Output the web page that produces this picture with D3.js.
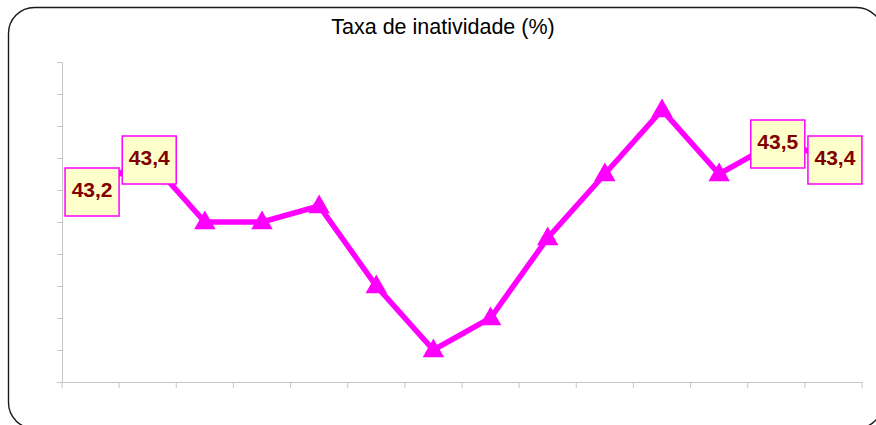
<!DOCTYPE html>
<html>
<head>
<meta charset="utf-8">
<script src="https://cdn.jsdelivr.net/npm/d3@7"></script>
<style>
  html, body { margin: 0; padding: 0; background: #fff; }
  svg { display: block; }
</style>
</head>
<body>
<svg id="chart" width="876" height="425"></svg>
<script>
// ---- data ----
const categories = ["P1","P2","P3","P4","P5","P6","P7","P8","P9","P10","P11","P12","P13","P14"];
const values = [43.2, 43.4, 43.0, 43.0, 43.1, 42.6, 42.2, 42.4, 42.9, 43.3, 43.7, 43.3, 43.5, 43.4];
const labelledIndices = [0, 1, 12, 13];
const yTicks = [42.0, 42.2, 42.4, 42.6, 42.8, 43.0, 43.2, 43.4, 43.6, 43.8, 44.0];
const title = "Taxa de inatividade (%)";

// ---- layout ----
const W = 876, H = 425;
const plot = { left: 62, right: 862, top: 62, bottom: 382 };
const font = "'Liberation Sans', Arial, sans-serif";
const magenta = "#FF00FF";
const axisGray = "#c6c6c6";

const svg = d3.select("#chart");
const ptBR = d3.formatLocale({ decimal: ",", thousands: ".", grouping: [3], currency: ["", ""] });
const fmt = ptBR.format(".1f");

// outer rounded frame
svg.append("rect")
  .attr("x", 8.5).attr("y", 7.5)
  .attr("width", 874).attr("height", 421)
  .attr("rx", 26).attr("ry", 26)
  .attr("fill", "#fff")
  .attr("stroke", "#1a1a1a")
  .attr("stroke-width", 1.4);

// title
svg.append("text")
  .attr("x", 443).attr("y", 34)
  .attr("text-anchor", "middle")
  .attr("font-family", font)
  .attr("font-size", 21.5)
  .attr("fill", "#000")
  .text(title);

// scales
const x = d3.scaleBand().domain(categories).range([plot.left, plot.right]).padding(0);
const y = d3.scaleLinear().domain([42, 44]).range([plot.bottom, plot.top]);

// y axis
const yAxis = svg.append("g")
  .attr("transform", `translate(${plot.left},0)`)
  .call(d3.axisLeft(y).tickValues(yTicks).tickSize(5).tickFormat(""));
yAxis.selectAll("path, line").attr("stroke", axisGray).attr("stroke-width", 1);

// x axis
const xAxis = svg.append("g")
  .attr("transform", `translate(0,${plot.bottom})`)
  .call(d3.axisBottom(x).tickSize(0).tickFormat(""));
xAxis.select("path").attr("stroke", axisGray).attr("stroke-width", 1);
// category boundary ticks
const boundaries = categories.map(c => x(c)).concat([x(categories[categories.length - 1]) + x.bandwidth()]);
xAxis.selectAll("line.bound").data(boundaries).enter().append("line")
  .attr("class", "bound")
  .attr("x1", d => d).attr("x2", d => d)
  .attr("y1", 0).attr("y2", 6)
  .attr("stroke", axisGray).attr("stroke-width", 1);
xAxis.selectAll(".tick").remove();

// line
const cx = (d, i) => x(categories[i]) + x.bandwidth() / 2;
const line = d3.line().x((d, i) => cx(d, i)).y(d => y(d));
svg.append("path")
  .datum(values)
  .attr("d", line)
  .attr("fill", "none")
  .attr("stroke", magenta)
  .attr("stroke-width", 5.5)
  .attr("stroke-linejoin", "miter");

// triangle markers
const tri = d3.symbol().type(d3.symbolTriangle).size(200);
svg.selectAll("path.marker").data(values).enter().append("path")
  .attr("class", "marker")
  .attr("d", tri)
  .attr("transform", (d, i) => `translate(${cx(d, i)},${y(d) + 1})`)
  .attr("fill", magenta);

// data labels
const bw = 54, bh = 48;
const lab = svg.selectAll("g.lab").data(labelledIndices).enter().append("g")
  .attr("class", "lab")
  .attr("transform", i => `translate(${cx(values[i], i) + 1.5},${y(values[i]) + 2})`);
lab.append("rect")
  .attr("x", -bw / 2).attr("y", -bh / 2)
  .attr("width", bw).attr("height", bh)
  .attr("fill", "#FFFFCC")
  .attr("stroke", magenta)
  .attr("stroke-width", 1.5);
lab.append("text")
  .attr("x", 0).attr("y", 5)
  .attr("text-anchor", "middle")
  .attr("font-family", font)
  .attr("font-weight", "bold")
  .attr("font-size", 21)
  .attr("fill", "#800000")
  .text(i => fmt(values[i]));
</script>
</body>
</html>
